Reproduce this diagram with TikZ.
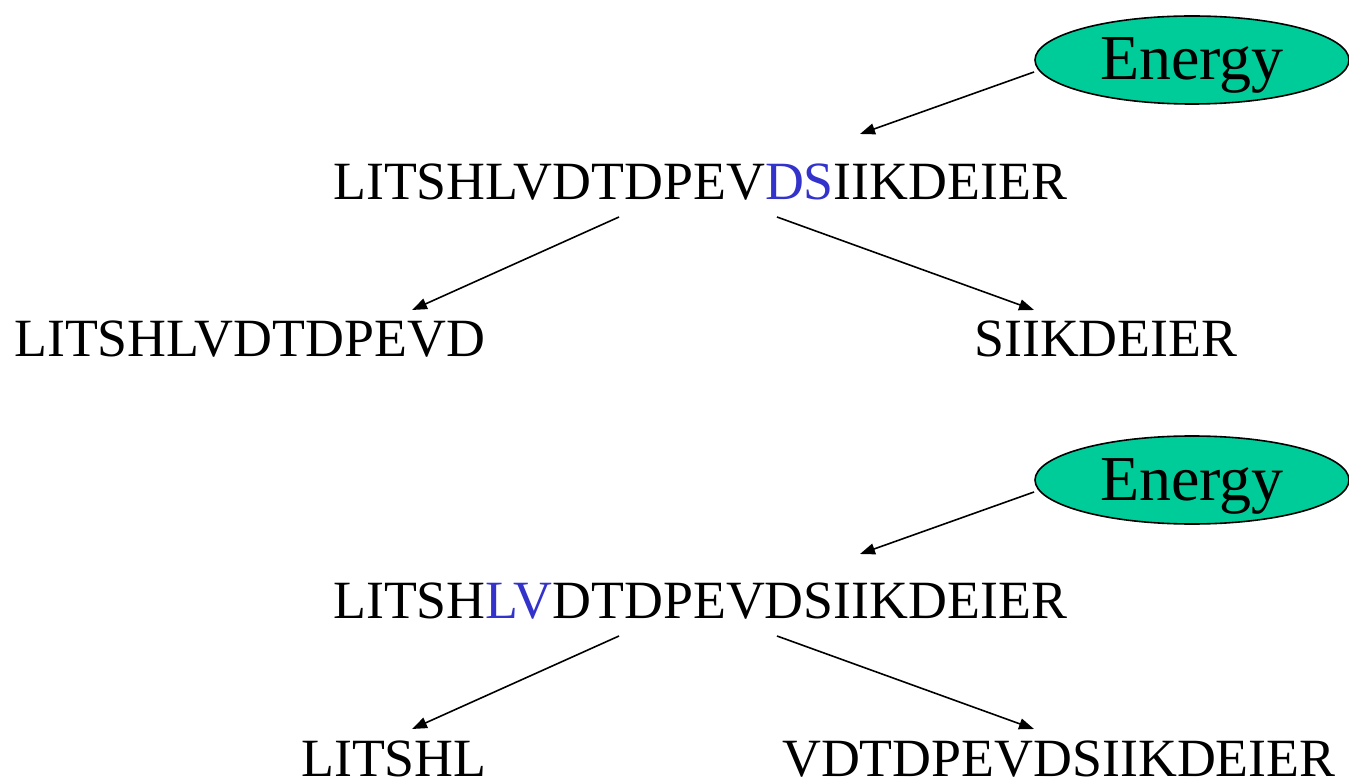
\documentclass[tikz,border=0pt]{standalone}
\usepackage{fontspec}
\setmainfont{Liberation Serif}
\usetikzlibrary{arrows.meta,shapes.geometric}
\definecolor{cutblue}{RGB}{51,51,204}
\definecolor{energygreen}{RGB}{0,204,153}
\begin{document}
\begin{tikzpicture}[x=1pt,y=-1pt,
  seq/.style={inner sep=0pt,anchor=base west,font=\fontsize{53.85}{54}\selectfont},
  energy/.style={ellipse,draw,line width=1.6pt,fill=energygreen,
    minimum width=314pt,minimum height=88pt,inner sep=0pt,
    text height=44pt,text depth=4pt,
    font=\fontsize{64}{64}\selectfont},
  link/.style={line width=1.6pt,-{Triangle[length=15pt,width=11pt]}}]
\useasboundingbox (0,0) rectangle (1349,783);

% first cut: between D and S
\node[energy] (e1) at (1192,60) {Energy};
\node[seq] (p1) at (333,200) {LITSHLVDTDPEV\textcolor{cutblue}{DS}IIKDEIER};
\node[seq] (l1) at (14,357) {LITSHLVDTDPEVD};
\node[seq] (r1) at (974,357) {SIIKDEIER};
\coordinate (e1t) at (1034,72);
\coordinate (e1h) at (860,134);
\coordinate (p1l) at (619,217);
\coordinate (l1h) at (412,310);
\coordinate (p1r) at (777,217);
\coordinate (r1h) at (1034,310);
\draw[link] (e1t) -- (e1h);
\draw[link] (p1l) -- (l1h);
\draw[link] (p1r) -- (r1h);

% second cut: between L and V
\node[energy] (e2) at (1192,480) {Energy};
\node[seq] (p2) at (333,618) {LITSH\textcolor{cutblue}{LV}DTDPEVDSIIKDEIER};
\node[seq] (l2) at (301,776) {LITSHL};
\node[seq] (r2) at (782,776) {VDTDPEVDSIIKDEIER};
\coordinate (e2t) at (1034,492);
\coordinate (e2h) at (860,554);
\coordinate (p2l) at (619,636);
\coordinate (l2h) at (412,729);
\coordinate (p2r) at (777,636);
\coordinate (r2h) at (1034,729);
\draw[link] (e2t) -- (e2h);
\draw[link] (p2l) -- (l2h);
\draw[link] (p2r) -- (r2h);
\end{tikzpicture}
\end{document}
